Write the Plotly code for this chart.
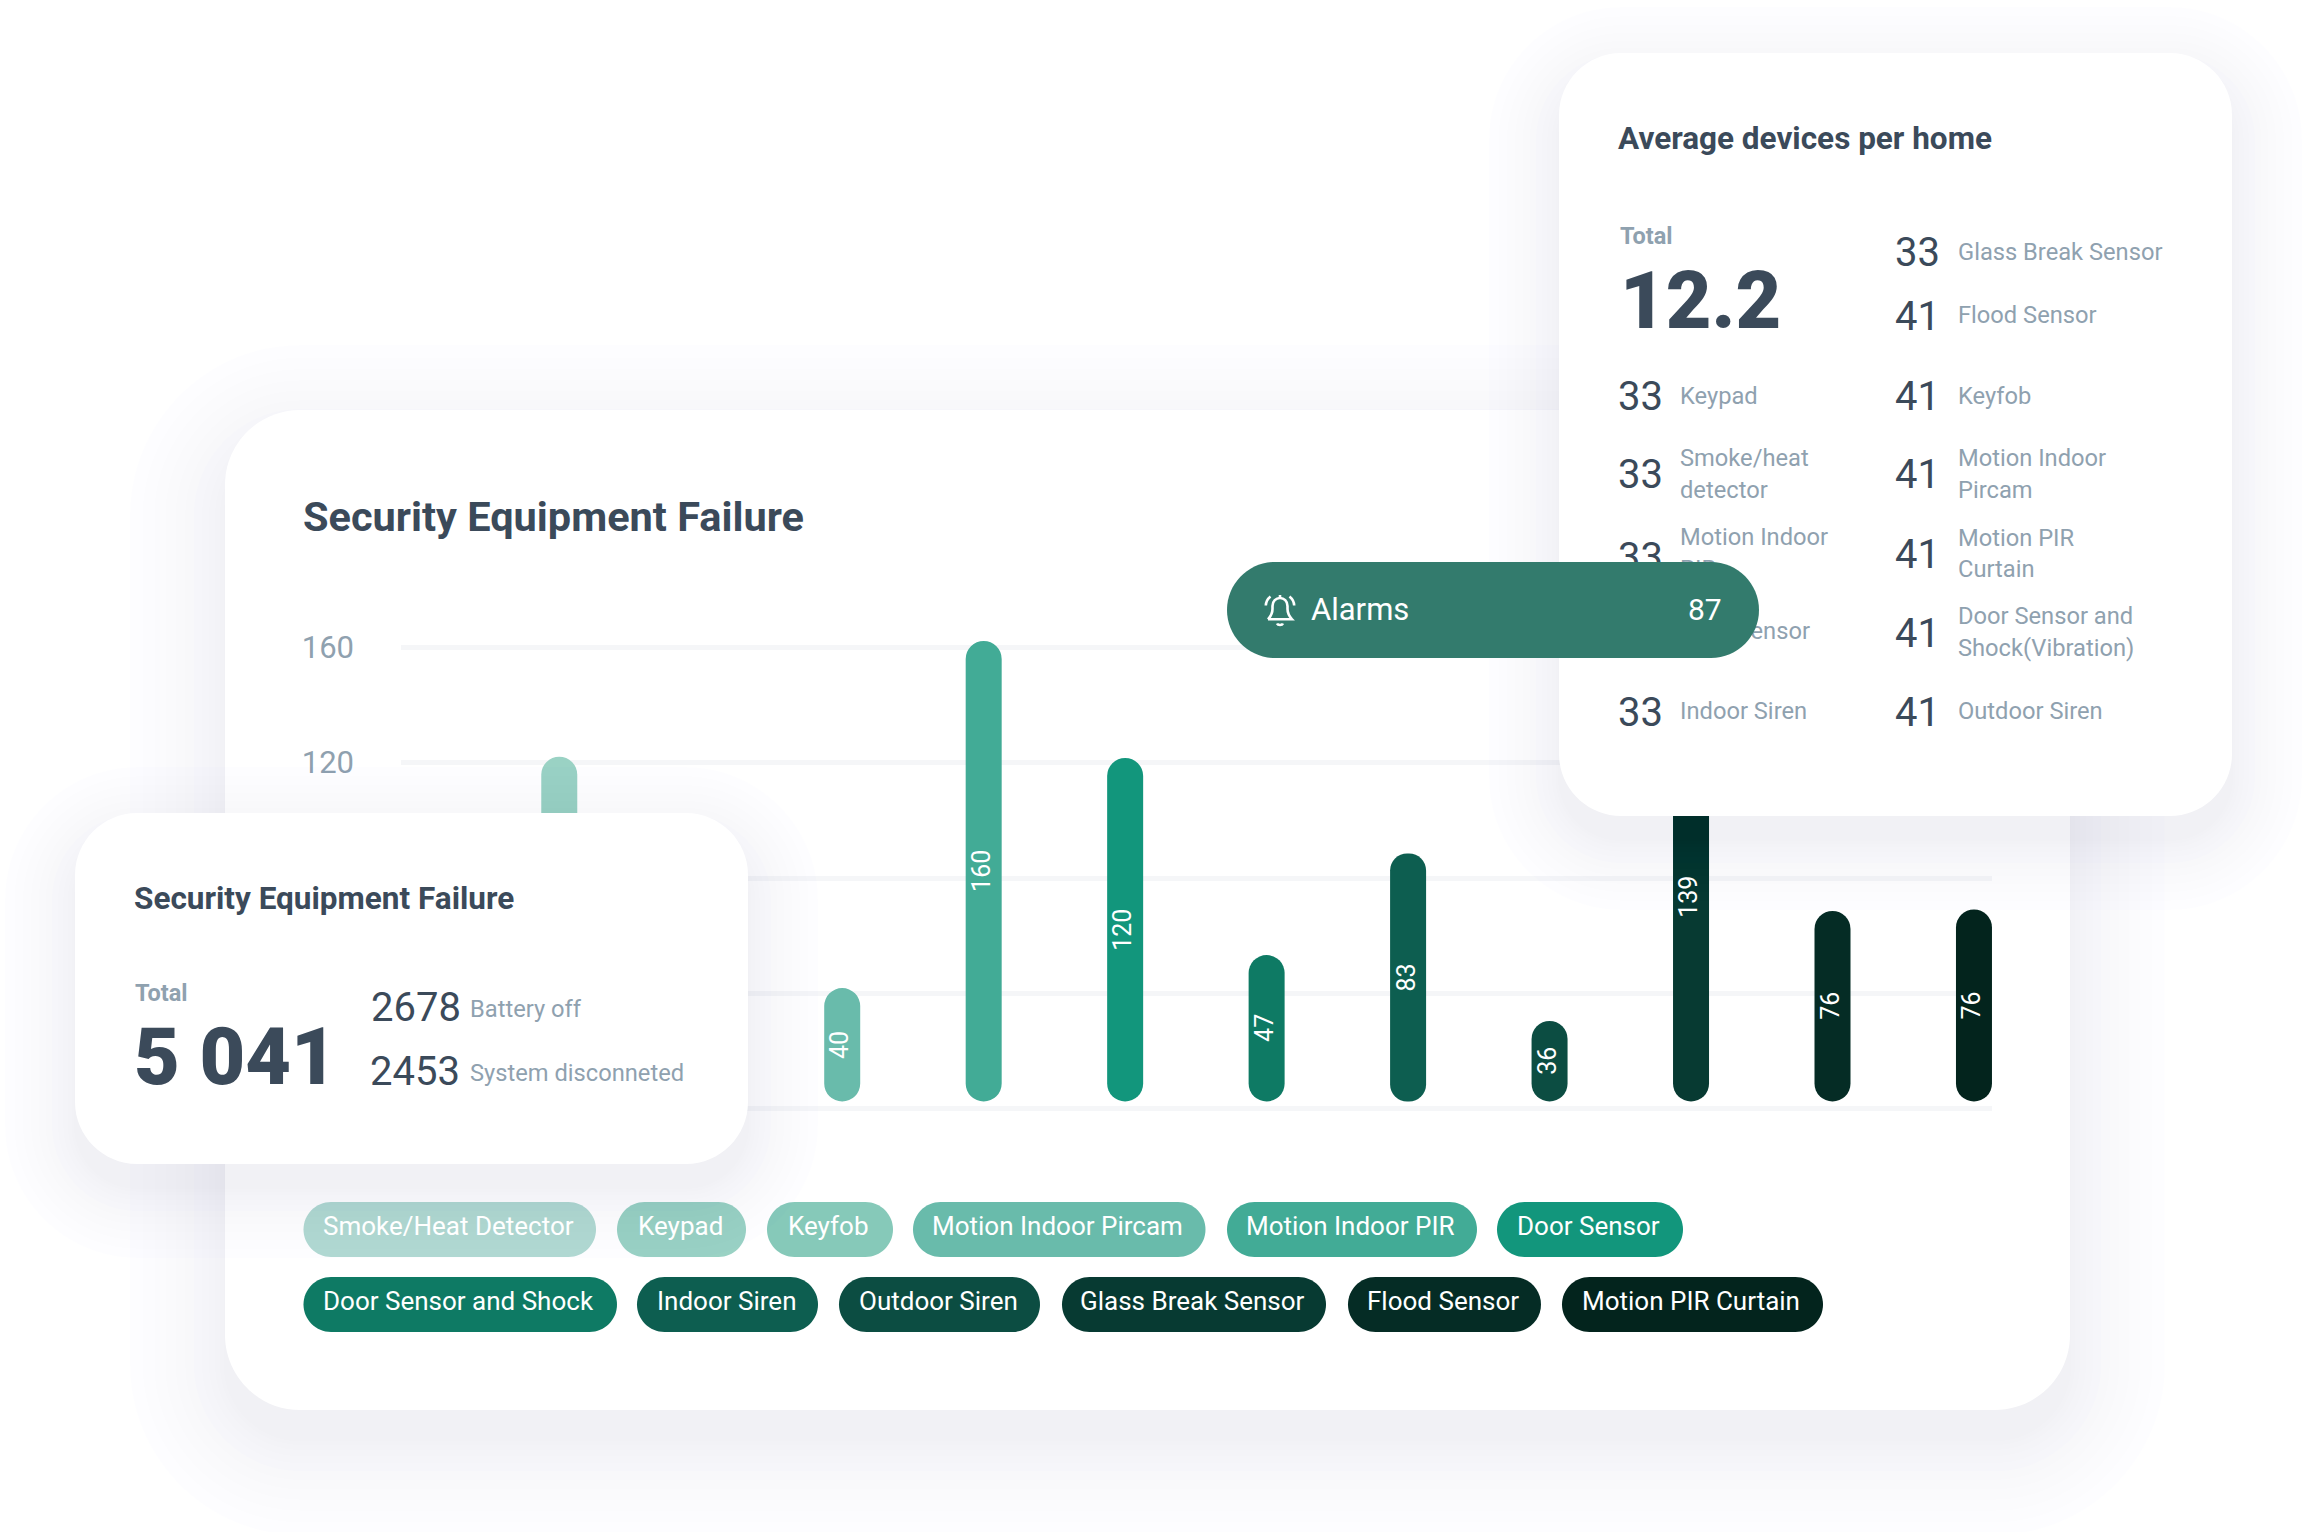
import plotly.graph_objects as go

# ---------- data ----------
categories = ["Smoke/Heat Detector", "Keypad", "Keyfob", "Motion Indoor Pircam", "Motion Indoor PIR",
              "Door Sensor", "Door Sensor and Shock", "Indoor Siren", "Outdoor Siren",
              "Glass Break Sensor", "Flood Sensor", "Motion PIR Curtain"]
# bar heights as drawn in the picture, and the numbers printed on the bars
bar_heights = [60, 119.4, 70, 39.3, 159.5, 119, 50.7, 85.9, 27.9, 141.8, 66, 66.5]
bar_labels = [None, None, None, 40, 160, 120, 47, 83, 36, 139, 76, 76]
colors = ["#B2DAD2", "#9AD2C4", "#86C9B9", "#69BBAB", "#42AB96", "#12967C",
          "#0E7A64", "#0D5E50", "#0C4D42", "#073A32", "#052C25", "#03241D"]
y_ticks = [0, 40, 80, 120, 160]
y_tick_text = ["", "", "", "120", "160"]

title_main = "Security Equipment Failure"
title_side = "Average devices per home"
total_failure = "5 041"
failure_rows = [("2678", "Battery off"), ("2453", "System disconneted")]
total_devices = "12.2"
alarm_label, alarm_value = "Alarms", "87"
device_left = [("33", ["Keypad"]), ("33", ["Smoke/heat", "detector"]), ("33", ["Motion Indoor", "PIR"]),
               ("33", ["Door Sensor"]), ("33", ["Indoor Siren"])]
device_right = [("33", ["Glass Break Sensor"]), ("41", ["Flood Sensor"]), ("41", ["Keyfob"]),
                ("41", ["Motion Indoor", "Pircam"]), ("41", ["Motion PIR", "Curtain"]),
                ("41", ["Door Sensor and", "Shock(Vibration)"]), ("41", ["Outdoor Siren"])]

# ---------- layout constants (pixels) ----------
W, H = 2304, 1532
FONT = "Roboto"
DARK, GREY = "#3B4A5A", "#8FA1AF"
GRID = "#F5F6F8"
BAR_LIFT = 2.6
PX_PER_UNIT = 2.8875
Y0 = 1109
CAT_STEP, CAT_FIRST = 141.47, 417.8
PLOT_L, PLOT_R = 401, 1992
Y_MIN, Y_MAX = -5, 170
LEG_ROWS = [(1202, 1257), (1277, 1332)]
LEG_X = [(0, 303.5, 596), (0, 617, 746), (0, 767, 893), (0, 913, 1205.5), (0, 1227, 1477), (0, 1497, 1683),
         (1, 303.5, 617), (1, 637, 818), (1, 839, 1040), (1, 1062, 1326), (1, 1348, 1541), (1, 1562, 1823)]
ROW_L_Y = [396.5, 475, 554.5, 633, 712]
ROW_R_Y = [253, 316, 396.5, 475, 554.5, 633, 712]


def px(x): return x / W
def py(y): return 1 - y / H


def to_path(cmds):
    out = []
    for c in cmds:
        v = c[1:]
        out.append(c[0] + " ".join(f"{px(v[i]):.6f},{py(v[i + 1]):.6f}" for i in range(0, len(v), 2)))
    return " ".join(out)


def rr_path(x0, y0, x1, y1, r):
    k = r * 0.45
    return to_path([("M", x0 + r, y0), ("L", x1 - r, y0), ("C", x1 - k, y0, x1, y0 + k, x1, y0 + r),
                    ("L", x1, y1 - r), ("C", x1, y1 - k, x1 - k, y1, x1 - r, y1), ("L", x0 + r, y1),
                    ("C", x0 + k, y1, x0, y1 - k, x0, y1 - r), ("L", x0, y0 + r),
                    ("C", x0, y0 + k, x0 + k, y0, x0 + r, y0)]) + " Z"


shapes, annotations = [], []


def add_rr(x0, y0, x1, y1, r, fill, layer="above"):
    shapes.append(dict(type="path", xref="paper", yref="paper", path=rr_path(x0, y0, x1, y1, r),
                       fillcolor=fill, line=dict(width=0), layer=layer))


def add_card(x0, y0, x1, y1, r, layer, spread=70, dy=24, n=12):
    for i in range(n, 0, -1):
        d = spread * (i / n) ** 1.6
        fill = "rgba(10,20,220,0.006)" if i % 6 == 0 else "rgba(0,0,0,0.004)"
        add_rr(x0 - d, y0 - d + dy, x1 + d, y1 + d + dy, r + d, fill, layer)
    add_rr(x0, y0, x1, y1, r, "#FFFFFF", layer)


def text(x, y, s, size, color, weight=400, anchor="left"):
    annotations.append(dict(xref="paper", yref="paper", x=px(x), y=py(y), text=s, showarrow=False,
                            xanchor=anchor, yanchor="middle", align=anchor,
                            font=dict(family=FONT, size=size, color=color, weight=weight),
                            borderpad=0, borderwidth=0))


def shape_text(x, y, s, size, color):
    """Text that lives in the shape layer so that later shapes can cover it."""
    shapes.append(dict(type="rect", xref="paper", yref="paper", x0=px(x - 3), x1=px(x + 400),
                       y0=py(y + 30), y1=py(y - 30), fillcolor="rgba(0,0,0,0)", line=dict(width=0),
                       layer="above",
                       label=dict(text=s, textposition="middle left", padding=0,
                                  font=dict(family=FONT, size=size, color=color))))


# main card
add_card(225, 410, 2070, 1410, 75, "below", spread=95, dy=30)

# legend pills
for (row, x0, x1), name, col in zip(LEG_X, categories, colors):
    y0, y1 = LEG_ROWS[row]
    add_rr(x0, y0, x1, y1, 27.5, col, "below")
    text((x0 + x1) / 2 - 1.5, (y0 + y1) / 2 - 3.5, name, 26, "#FFFFFF", anchor="center")
text(303, 517, title_main, 41.5, DARK, 700)

# small card
add_card(75, 813, 748, 1164, 62, "above")
text(134, 898, title_main, 31.5, DARK, 700)
text(135, 992.5, "Total", 23.5, GREY, 700)
text(134, 1057, total_failure, 79, DARK, 900)
for (num, lab), y, xn in zip(failure_rows, (1007, 1071), (371, 369.5)):
    text(xn, y, num, 40, DARK)
    text(470, y + 2, lab, 23.7, GREY)

# top right card
add_card(1559, 53, 2232, 816, 62, "above")
text(1618, 138, title_side, 31.5, DARK, 700)
text(1620, 236, "Total", 23.5, GREY, 700)
text(1620, 301.5, total_devices, 79, DARK, 900)

for rows, ys, xn, xl in ((device_left, ROW_L_Y, 1618, 1680), (device_right, ROW_R_Y, 1895, 1958)):
    for (num, lines), y in zip(rows, ys):
        covered = 540 < y < 660 and xn == 1618
        (shape_text if covered else text)(xn, y, num, 40, DARK)
        for j, ln in enumerate(lines):
            ly = y - 1 if len(lines) == 1 else y - 17 + 32 * j
            if covered:
                shape_text(xl, ly - 2.5, ln, 23.7, GREY)
            else:
                text(xl, ly, ln, 23.7, GREY)

# alarm pill
add_rr(1227, 562, 1759, 658, 48, "#337B6D")
text(1311, 609, alarm_label, 31, "#FFFFFF")
text(1722, 609, alarm_value, 30, "#FFFFFF", anchor="right")
# bell icon
bell_paths = [
    [("M", 1268, 619.3), ("L", 1292, 619.3), ("C", 1289, 616, 1287.5, 613, 1287.5, 609),
     ("L", 1287.5, 606), ("C", 1287.5, 601, 1284, 598, 1280, 598), ("C", 1276, 598, 1272.5, 601, 1272.5, 606),
     ("L", 1272.5, 609), ("C", 1272.5, 613, 1271, 616, 1268, 619.3)],
    [("M", 1265.8, 605.5), ("C", 1266, 601.5, 1268, 598.5, 1270.5, 596.5)],
    [("M", 1294.2, 605.5), ("C", 1294, 601.5, 1292, 598.5, 1289.5, 596.5)],
    [("M", 1277, 623.5), ("C", 1278, 625.5, 1282, 625.5, 1283, 623.5)],
    [("M", 1280, 595), ("L", 1280, 598)],
]
for cmds in bell_paths:
    shapes.append(dict(type="path", xref="paper", yref="paper", layer="above", fillcolor="rgba(0,0,0,0)",
                       line=dict(color="#FFFFFF", width=2.6), path=to_path(cmds)))

# ---------- chart ----------
fig = go.Figure()
fig.add_trace(go.Bar(x=categories, y=bar_heights, base=[BAR_LIFT] * len(bar_heights), width=36 / CAT_STEP,
                     marker=dict(color=colors, cornerradius=18, line=dict(width=0)),
                     hoverinfo="skip", showlegend=False))

for name, h, lab in zip(categories, bar_heights, bar_labels):
    if lab is not None:
        annotations.append(dict(xref="x", yref="y", x=name, y=BAR_LIFT + h / 2, text=str(lab), showarrow=False,
                                textangle=-90, xshift=-2, font=dict(family=FONT, size=25, color="#FFFFFF")))

fig.update_layout(
    width=W, height=H, autosize=False, margin=dict(l=0, r=0, t=0, b=0),
    paper_bgcolor="#FFFFFF", plot_bgcolor="rgba(0,0,0,0)", showlegend=False,
    shapes=shapes, annotations=annotations,
    xaxis=dict(domain=[px(PLOT_L), px(PLOT_R)], type="category", categoryorder="array", categoryarray=categories,
               range=[-(CAT_FIRST - PLOT_L) / CAT_STEP, 11 + (PLOT_R - CAT_FIRST - 11 * CAT_STEP) / CAT_STEP],
               showticklabels=False, showgrid=False, zeroline=False, ticks=""),
    yaxis=dict(domain=[py(Y0 - Y_MIN * PX_PER_UNIT), py(Y0 - Y_MAX * PX_PER_UNIT)], range=[Y_MIN, Y_MAX],
               tickvals=y_ticks, ticktext=y_tick_text, showgrid=True, gridcolor=GRID, gridwidth=5, zeroline=False,
               showline=False, ticks="", ticklabelstandoff=46, tickfont=dict(family=FONT, size=31, color=GREY)),
)
fig.write_html("out.html", config={"displayModeBar": False},
               post_script="document.body.style.margin='0';document.body.style.overflow='hidden';")
